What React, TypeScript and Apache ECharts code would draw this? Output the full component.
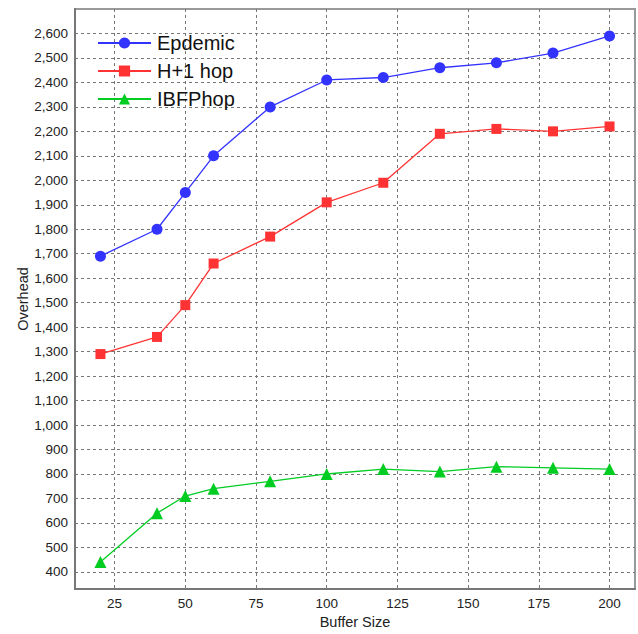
import React, { useEffect, useRef } from "react";
import * as echarts from "echarts";

const bufferSizes = [20, 40, 50, 60, 80, 100, 120, 140, 160, 180, 200];
const epdemic = [1690, 1800, 1950, 2100, 2300, 2410, 2420, 2460, 2480, 2520, 2590];
const h1hop = [1290, 1360, 1490, 1660, 1770, 1910, 1990, 2190, 2210, 2200, 2220];
const ibfphop = [440, 640, 710, 740, 770, 800, 820, 810, 830, 825, 820];
const xTicks = [25, 50, 75, 100, 125, 150, 175, 200];
const yTicks = [400, 500, 600, 700, 800, 900, 1000, 1100, 1200, 1300, 1400, 1500, 1600, 1700, 1800, 1900, 2000, 2100, 2200, 2300, 2400, 2500, 2600];

const FONT = "'Liberation Sans', Arial, sans-serif";

export default function App() {
  const ref = useRef<HTMLDivElement>(null);
  useEffect(() => {
    if (!ref.current) return;
    const chart = echarts.init(ref.current, null, { renderer: "svg" });
    const pair = (ys: number[]) => bufferSizes.map((x, i) => [x, ys[i]]);
    const gridLine = { show: true, lineStyle: { color: "#777", type: [3, 3] as any, width: 1 } };
    chart.setOption({
      animation: false,
      backgroundColor: "#fff",
      textStyle: { fontFamily: FONT },
      grid: {
        left: 75, top: 9, right: 3, bottom: 42,
        show: true, borderColor: "#999", borderWidth: 2, backgroundColor: "transparent",
      },
      legend: {
        orient: "vertical",
        left: 92, top: 28,
        itemWidth: 53, itemHeight: 14, itemGap: 8,
        textStyle: { fontSize: 20, color: "#111", fontFamily: FONT, padding: [0, 0, 0, 1] },
        data: ["Epdemic", "H+1 hop", "IBFPhop"],
      },
      xAxis: {
        type: "value",
        min: 11, max: 209,
        name: "Buffer Size",
        nameLocation: "middle",
        nameGap: 25,
        nameMoveOverlap: false,
        nameTextStyle: { fontSize: 14.5, color: "#222", fontFamily: FONT },
        axisLine: { show: true, onZero: false, lineStyle: { color: "#777", width: 2 } },
        axisTick: { show: false, customValues: xTicks },
        axisLabel: { customValues: xTicks, fontSize: 13.5, color: "#222", margin: 7, fontFamily: FONT },
        splitLine: gridLine,
      },
      yAxis: {
        type: "value",
        min: 330, max: 2700,
        name: "Overhead",
        nameLocation: "middle",
        nameGap: 45,
        nameMoveOverlap: false,
        nameTextStyle: { fontSize: 14.5, color: "#222", fontFamily: FONT },
        axisLine: { show: true, onZero: false, lineStyle: { color: "#777", width: 2 } },
        axisTick: { show: false, customValues: yTicks },
        axisLabel: {
          customValues: yTicks, fontSize: 13.5, color: "#222", margin: 7, fontFamily: FONT,
          formatter: (v: number) => v.toLocaleString("en-US"),
        },
        splitLine: gridLine,
      },
      series: [
        {
          name: "Epdemic", type: "line", data: pair(epdemic),
          symbol: "circle", symbolSize: 11,
          itemStyle: { color: "#3333ff" }, lineStyle: { color: "#3333ff", width: 1.3 },
        },
        {
          name: "H+1 hop", type: "line", data: pair(h1hop),
          symbol: "rect", symbolSize: 10,
          itemStyle: { color: "#ff3333" }, lineStyle: { color: "#ff3333", width: 1.3 },
        },
        {
          name: "IBFPhop", type: "line", data: pair(ibfphop),
          symbol: "triangle", symbolSize: 12,
          itemStyle: { color: "#00cc22" }, lineStyle: { color: "#00cc22", width: 1.3 },
        },
      ],
    });
    return () => chart.dispose();
  }, []);
  return (
    <div
      ref={ref}
      style={{ position: "fixed", left: 0, top: 0, width: 638, height: 634, background: "#fff" }}
    />
  );
}
